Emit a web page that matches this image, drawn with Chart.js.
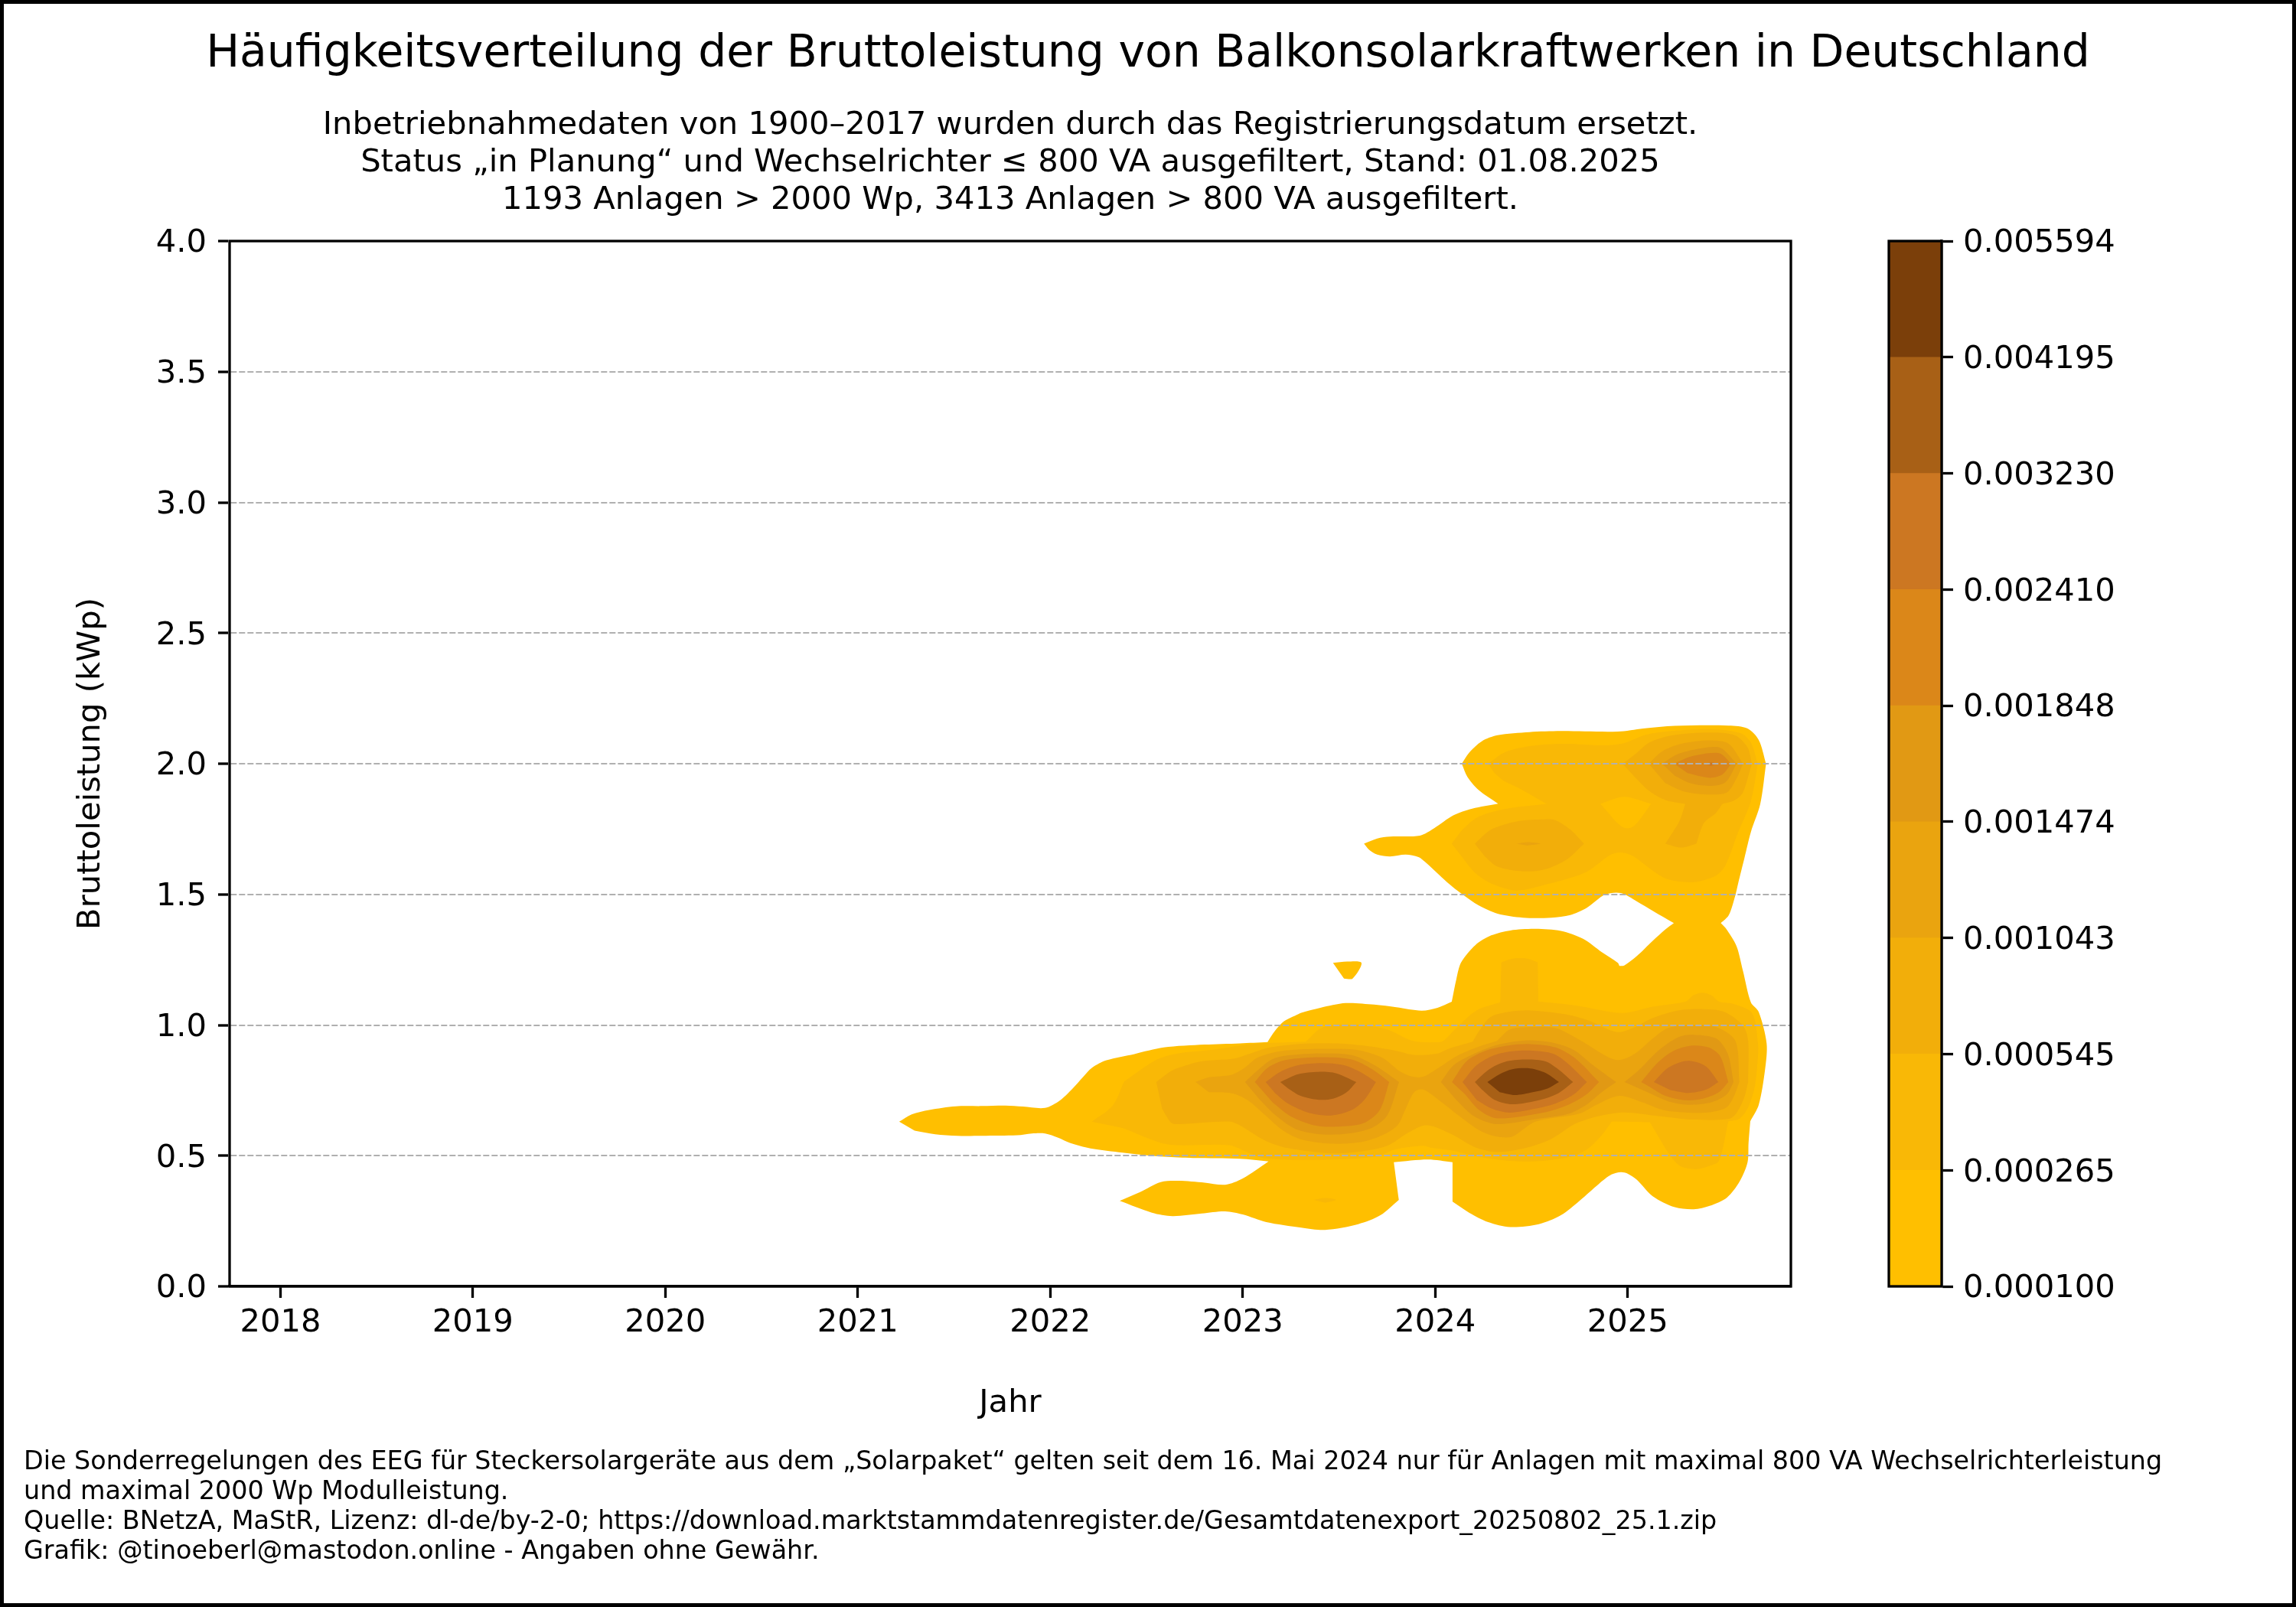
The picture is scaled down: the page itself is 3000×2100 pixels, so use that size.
<!DOCTYPE html>
<html lang="de">
<head>
<meta charset="utf-8">
<title>Balkonsolarkraftwerke</title>
<script src="https://cdn.jsdelivr.net/npm/chart.js@4"></script>
<style>
  html, body { margin: 0; padding: 0; background: #fff; }
  body { width: 3000px; height: 2100px; position: relative; overflow: hidden; font-family: "DejaVu Sans", sans-serif; color: #000; }
  #frame { position: absolute; left: 0; top: 0; width: 3000px; height: 2100px; box-sizing: border-box; border: 5px solid #000; pointer-events: none; }
  canvas { position: absolute; }
  #mainChart { left: 0; top: 0; }
  #barChart { left: 2440px; top: 200px; }
  .txt { position: absolute; white-space: nowrap; }
  #title { left: 1500px; top: 37px; font-size: 58.38px; line-height: 60px; transform: translateX(-50%); }
  #subtitle { left: 1320px; top: 137px; font-size: 41.67px; line-height: 48.9px; text-align: center; transform: translateX(-50%); }
  #footer { left: 31px; top: 1889px; font-size: 33.37px; line-height: 39px; }
</style>
</head>
<body>
<canvas id="mainChart" width="2440" height="1900"></canvas>
<canvas id="barChart" width="400" height="1600"></canvas>
<div id="title" class="txt">Häufigkeitsverteilung der Bruttoleistung von Balkonsolarkraftwerken in Deutschland</div>
<div id="subtitle" class="txt">Inbetriebnahmedaten von 1900–2017 wurden durch das Registrierungsdatum ersetzt.<br>Status „in Planung“ und Wechselrichter ≤ 800 VA ausgefiltert, Stand: 01.08.2025<br>1193 Anlagen &gt; 2000 Wp, 3413 Anlagen &gt; 800 VA ausgefiltert.</div>
<div id="footer" class="txt">Die Sonderregelungen des EEG für Steckersolargeräte aus dem „Solarpaket“ gelten seit dem 16. Mai 2024 nur für Anlagen mit maximal 800 VA Wechselrichterleistung<br>und maximal 2000 Wp Modulleistung.<br>Quelle: BNetzA, MaStR, Lizenz: dl-de/by-2-0; https://download.marktstammdatenregister.de/Gesamtdatenexport_20250802_25.1.zip<br>Grafik: @tinoeberl@mastodon.online - Angaben ohne Gewähr.</div>
<div id="frame"></div>
<script>
// Achsen
const yearTicks = [2018, 2019, 2020, 2021, 2022, 2023, 2024, 2025];
const yearMin = 2017.736;
const yearMax = 2025.848;
const powerMin = 0;
const powerMax = 4;
const powerStep = 0.5;

// Konturstufen und Farben
const contourLevels = [0.0001, 0.000265, 0.000545, 0.001043, 0.001474, 0.001848, 0.00241, 0.00323, 0.004195, 0.005594];
const levelColors = ['#FFBF00', '#F9B806', '#F2AE0A', '#EAA40F', '#E19914', '#DB8719', '#CC7722', '#A86016', '#7B3F0A'];

// Konturflächen als [Jahr, kWp]
const outlineL0 = [[2021.215,.630],[2021.28,.658],[2021.371,.675],[2021.508,.689],[2021.645,.690],[2021.767,.692],[2021.858,.688],[2021.973,.683],[2022.049,.711],[2022.117,.758],[2022.170,.801],[2022.216,.836],[2022.292,.865],[2022.437,.889],[2022.589,.914],[2022.802,.925],[2022.985,.930],[2023.129,.935],[2023.167,.977],[2023.213,1.014],[2023.289,1.042],[2023.304,1.047],[2023.403,1.066],[2023.535,1.084],[2023.683,1.078],[2023.798,1.068],[2023.929,1.055],[2024.012,1.066],[2024.086,1.089],[2024.110,1.176],[2024.135,1.240],[2024.209,1.306],[2024.291,1.343],[2024.390,1.362],[2024.521,1.368],[2024.653,1.360],[2024.768,1.330],[2024.867,1.278],[2024.949,1.238],[2024.957,1.226],[2024.982,1.228],[2025.048,1.264],[2025.130,1.322],[2025.196,1.366],[2025.240,1.390],
  [2025.130,1.437],[2025.048,1.473],[2024.965,1.505],[2024.883,1.499],[2024.785,1.447],[2024.702,1.421],[2024.604,1.411],[2024.456,1.411],[2024.324,1.426],[2024.225,1.458],[2024.143,1.499],[2024.061,1.547],[2023.946,1.625],[2023.913,1.643],[2023.847,1.652],[2023.765,1.645],[2023.699,1.652],[2023.658,1.670],[2023.630,1.694],[2023.699,1.714],[2023.765,1.721],[2023.921,1.725],[2023.995,1.753],[2024.094,1.802],[2024.192,1.828],[2024.327,1.847],[2024.225,1.900],[2024.168,1.949],[2024.138,2.0],[2024.176,2.042],[2024.242,2.086],[2024.324,2.109],[2024.489,2.121],[2024.653,2.125],[2024.949,2.123],[2025.081,2.135],[2025.245,2.145],[2025.525,2.146],[2025.623,2.135],[2025.681,2.091],[2025.719,2.0],[2025.689,1.846],[2025.640,1.738],[2025.607,1.640],[2025.574,1.542],[2025.558,1.493],[2025.525,1.420],[2025.484,1.390],
  [2025.516,1.364],[2025.566,1.301],[2025.599,1.207],[2025.640,1.087],[2025.681,1.050],[2025.722,.930],[2025.714,.831],[2025.681,.695],[2025.637,.632],[2025.628,.549],[2025.623,.475],[2025.582,.402],[2025.516,.340],[2025.426,.308],[2025.344,.295],[2025.245,.303],[2025.130,.345],[2025.048,.408],[2024.998,.432],[2024.965,.437],[2024.916,.428],[2024.850,.392],[2024.752,.329],[2024.653,.272],[2024.538,.238],[2024.390,.227],[2024.275,.246],[2024.176,.282],[2024.090,.324],[2024.090,.475],[2023.962,.485],[2023.785,.475],[2023.811,.331],[2023.715,.272],[2023.600,.238],[2023.428,.216],[2023.304,.225],[2023.122,.246],[2023.0,.275],[2022.909,.287],[2022.787,.279],[2022.635,.269],[2022.528,.282],[2022.361,.327],[2022.467,.361],[2022.574,.399],[2022.665,.404],[2022.802,.397],[2022.909,.389],[2023.0,.413],[2023.134,.478],[2022.985,.488],[2022.741,.491],[2022.589,.496],[2022.376,.512],[2022.209,.528],[2022.102,.549],[2022.041,.569],[2021.973,.585],[2021.904,.585],[2021.828,.578],[2021.645,.576],[2021.516,.576],[2021.402,.582],[2021.295,.596]];
const islandL0 = [[2023.469,1.238],[2023.543,1.243],[2023.617,1.238],[2023.571,1.178],[2023.526,1.178]];

const mainL1 = [[2022.216,.630],[2022.323,.690],[2022.384,.784],[2022.551,.867],[2022.665,.892],[2022.837,.905],[2023.049,.927],[2023.328,.936],[2023.407,.988],[2023.487,1.0],[2023.619,1.0],[2023.751,.983],[2023.884,.939],[2024.017,.934],[2024.043,.939],[2024.109,.988],[2024.215,1.056],[2024.338,1.087],[2024.344,1.24],[2024.39,1.252],[2024.439,1.256],[2024.49,1.252],[2024.533,1.24],[2024.536,1.090],[2024.732,1.075],[2024.971,1.046],[2025.130,1.070],[2025.302,1.090],[2025.341,1.114],[2025.388,1.124],[2025.434,1.114],[2025.474,1.090],[2025.553,1.080],[2025.646,1.046],[2025.677,.929],[2025.675,.861],[2025.660,.763],[2025.626,.685],[2025.580,.641],[2025.523,.631],[2025.474,.480],[2025.421,.460],[2025.355,.449],[2025.275,.460],[2025.222,.499],[2025.116,.628],[2024.917,.631],[2024.865,.578],[2024.798,.529],[2024.719,.499],[2024.560,.480],[2024.388,.480],[2024.202,.499],[2024.096,.519],[2023.977,.531],[2023.937,.538],[2023.791,.524],[2023.699,.497],[2023.407,.484],[2023.116,.490],[2023.036,.509],[2022.930,.540],[2022.665,.540],[2022.574,.549],[2022.376,.606]];
const upperL1 = [[2024.275,2.0],[2024.357,2.042],[2024.489,2.067],[2024.669,2.076],[2024.883,2.070],[2024.982,2.079],[2025.097,2.111],[2025.229,2.125],[2025.442,2.132],[2025.590,2.116],[2025.640,2.081],[2025.676,2.0],[2025.640,1.856],[2025.574,1.738],[2025.508,1.611],[2025.459,1.572],[2025.344,1.547],[2025.212,1.557],[2025.130,1.591],[2025.031,1.645],[2024.965,1.660],[2024.908,1.650],[2024.785,1.586],[2024.587,1.540],[2024.423,1.515],[2024.291,1.542],[2024.209,1.581],[2024.143,1.640],[2024.086,1.694],[2024.143,1.748],[2024.225,1.797],[2024.357,1.826],[2024.579,1.846],[2024.439,1.905],[2024.357,1.934],[2024.308,1.964]];
const spotL1 = [[2023.368,.331],[2023.428,.338],[2023.485,.331],[2023.428,.320]];
const lensL0 = [[2024.858,1.846],[2024.982,1.873],[2025.121,1.846],[2025.064,1.787],[2025.023,1.757],[2024.982,1.755],[2024.941,1.777],[2024.900,1.811]];

const mainL2 = [[2022.551,.782],[2022.619,.820],[2022.665,.836],[2022.784,.861],[2022.957,.872],[2023.036,.890],[2023.142,.914],[2023.328,.929],[2023.513,.929],[2023.672,.917],[2023.805,.900],[2023.897,.885],[2024.017,.892],[2024.070,.909],[2024.195,.936],[2024.229,.978],[2024.288,1.031],[2024.388,1.051],[2024.494,1.056],[2024.679,1.041],[2024.798,1.017],[2024.944,.973],[2025.037,.992],[2025.130,1.027],[2025.262,1.056],[2025.394,1.061],[2025.500,1.051],[2025.600,.997],[2025.626,.939],[2025.626,.782],[2025.606,.724],[2025.567,.665],[2025.527,.641],[2025.342,.638],[2025.169,.651],[2024.957,.665],[2024.745,.628],[2024.600,.563],[2024.467,.529],[2024.321,.514],[2024.202,.534],[2024.096,.578],[2023.990,.612],[2023.937,.615],[2023.857,.587],[2023.751,.538],[2023.619,.517],[2023.460,.509],[2023.235,.529],[2023.116,.558],[2022.983,.617],[2022.930,.631],[2022.665,.621],[2022.627,.627],[2022.581,.679]];
const blobL2 = [[2024.206,1.694],[2024.291,1.748],[2024.423,1.779],[2024.554,1.787],[2024.620,1.785],[2024.702,1.748],[2024.773,1.694],[2024.686,1.635],[2024.571,1.596],[2024.456,1.588],[2024.324,1.606],[2024.258,1.645]];
const upperL2 = [[2024.974,2.0],[2025.048,2.042],[2025.113,2.081],[2025.229,2.108],[2025.426,2.119],[2025.558,2.108],[2025.623,2.062],[2025.645,2.0],[2025.599,1.890],[2025.558,1.861],[2025.492,1.846],[2025.459,1.812],[2025.396,1.773],[2025.357,1.694],[2025.278,1.679],[2025.196,1.694],[2025.270,1.782],[2025.299,1.846],[2025.196,1.861],[2025.113,1.895],[2025.031,1.954]];

const mainL3 = [[2022.755,.782],[2022.824,.800],[2022.943,.810],[2023.009,.836],[2023.076,.875],[2023.195,.900],[2023.407,.909],[2023.593,.905],[2023.725,.875],[2023.818,.822],[2023.884,.802],[2023.937,.802],[2024.017,.836],[2024.109,.880],[2024.215,.914],[2024.321,.939],[2024.388,.983],[2024.494,.992],[2024.626,.988],[2024.759,.939],[2024.891,.880],[2024.957,.866],[2025.037,.890],[2025.130,.948],[2025.209,.988],[2025.328,.999],[2025.461,.992],[2025.560,.939],[2025.580,.782],[2025.550,.724],[2025.514,.685],[2025.434,.667],[2025.315,.665],[2025.183,.675],[2025.077,.704],[2024.957,.729],[2024.838,.695],[2024.745,.660],[2024.520,.630],[2024.401,.573],[2024.321,.573],[2024.242,.592],[2024.136,.646],[2024.017,.714],[2023.937,.753],[2023.891,.743],[2023.844,.675],[2023.805,.617],[2023.725,.578],[2023.619,.553],[2023.460,.546],[2023.301,.563],[2023.208,.597],[2023.116,.656],[2023.023,.714],[2022.943,.739],[2022.824,.743]];
const spotL3 = [[2024.423,1.694],[2024.480,1.700],[2024.546,1.694],[2024.480,1.687]];
const upperL3 = [[2025.110,2.0],[2025.179,2.047],[2025.278,2.076],[2025.426,2.089],[2025.525,2.076],[2025.599,2.0],[2025.566,1.944],[2025.516,1.890],[2025.426,1.882],[2025.294,1.893],[2025.196,1.925]];

const eye1L4 = [[2023.012,.782],[2023.076,.826],[2023.155,.870],[2023.248,.885],[2023.407,.892],[2023.566,.885],[2023.685,.846],[2023.812,.782],[2023.752,.656],[2023.672,.607],[2023.540,.584],[2023.407,.582],[2023.275,.602],[2023.169,.656],[2023.089,.714]];
const eye2L4 = [[2024.030,.782],[2024.096,.846],[2024.202,.890],[2024.321,.924],[2024.467,.941],[2024.600,.934],[2024.719,.905],[2024.812,.851],[2024.940,.782],[2024.865,.743],[2024.785,.695],[2024.692,.660],[2024.533,.641],[2024.321,.621],[2024.202,.651],[2024.109,.714]];
const eye3L4 = [[2024.984,.782],[2025.063,.831],[2025.156,.900],[2025.262,.953],[2025.342,.963],[2025.461,.948],[2025.520,.890],[2025.550,.782],[2025.514,.734],[2025.434,.704],[2025.315,.695],[2025.209,.709],[2025.103,.743]];
const upperL4 = [[2025.179,2.0],[2025.262,2.037],[2025.393,2.060],[2025.484,2.060],[2025.566,2.0],[2025.508,1.929],[2025.426,1.915],[2025.327,1.925],[2025.245,1.954]];

const eye1L5 = [[2023.063,.782],[2023.129,.836],[2023.222,.866],[2023.407,.877],[2023.566,.868],[2023.672,.831],[2023.761,.782],[2023.712,.675],[2023.632,.626],[2023.513,.612],[2023.381,.615],[2023.248,.651],[2023.155,.704]];
const eye2L5 = [[2024.087,.782],[2024.162,.861],[2024.255,.900],[2024.374,.921],[2024.494,.927],[2024.626,.914],[2024.732,.870],[2024.851,.782],[2024.785,.734],[2024.692,.695],[2024.560,.665],[2024.321,.643],[2024.228,.675],[2024.156,.734]];
const eye3L5 = [[2025.070,.782],[2025.156,.856],[2025.235,.900],[2025.328,.921],[2025.421,.914],[2025.481,.880],[2025.523,.782],[2025.474,.743],[2025.394,.719],[2025.302,.712],[2025.196,.729],[2025.116,.763]];
const upperL5 = [[2025.242,2.0],[2025.327,2.027],[2025.475,2.040],[2025.538,2.0],[2025.492,1.959],[2025.426,1.946],[2025.311,1.964]];

const eye1L6 = [[2023.119,.782],[2023.195,.821],[2023.288,.846],[2023.407,.854],[2023.526,.846],[2023.619,.817],[2023.692,.782],[2023.632,.714],[2023.566,.675],[2023.460,.654],[2023.341,.665],[2023.235,.700],[2023.169,.739]];
const eye2L6 = [[2024.142,.782],[2024.215,.846],[2024.308,.885],[2024.401,.900],[2024.507,.902],[2024.613,.890],[2024.692,.851],[2024.788,.782],[2024.719,.734],[2024.626,.700],[2024.520,.680],[2024.388,.665],[2024.295,.680],[2024.215,.714]];
const eye3L6 = [[2025.136,.782],[2025.209,.836],[2025.288,.861],[2025.342,.861],[2025.408,.841],[2025.471,.782],[2025.408,.753],[2025.315,.740],[2025.222,.751]];
const upperL6 = [[2025.401,2.0],[2025.434,2.005],[2025.458,2.0],[2025.434,1.992]];

const eye1L7 = [[2023.195,.782],[2023.288,.812],[2023.394,.821],[2023.487,.815],[2023.590,.782],[2023.540,.743],[2023.473,.719],[2023.394,.714],[2023.301,.729],[2023.235,.758]];
const eye2L7 = [[2024.206,.782],[2024.281,.831],[2024.361,.859],[2024.467,.868],[2024.573,.861],[2024.639,.831],[2024.716,.782],[2024.639,.739],[2024.546,.714],[2024.401,.697],[2024.308,.714],[2024.242,.753]];

const eye2L8 = [[2024.271,.782],[2024.335,.812],[2024.401,.831],[2024.494,.834],[2024.573,.817],[2024.643,.782],[2024.586,.758],[2024.507,.743],[2024.414,.732],[2024.335,.743]];

// Ecken, die nicht abgerundet werden (Jahr, kWp)
const sharpCorners = [[2025.240,1.390],[2025.484,1.390],[2024.327,1.847],[2024.090,.324],[2024.090,.475],[2023.785,.475],[2023.811,.331],[2023.134,.478],[2024.086,1.089],[2023.129,.935],[2025.719,2.0],[2024.138,2.0],[2022.361,.327],[2023.630,1.694],[2025.637,.632],[2024.957,1.226],
    [2022.384,.784],[2023.328,.936],[2024.338,1.087],[2024.344,1.24],[2024.533,1.24],[2024.536,1.090],[2025.523,.631],[2025.116,.628],[2024.917,.631],[2024.579,1.846],[2024.086,1.694],[2025.676,2.0],[2025.121,1.846],
    [2025.626,.782],[2024.195,.936],[2025.580,.782],[2024.321,.939],[2024.773,1.694],[2025.645,2.0],[2025.357,1.694],[2025.196,1.694],[2025.299,1.846],[2025.492,1.846],[2025.599,2.0],[2025.566,2.0],[2025.538,2.0],
    [2023.812,.782],[2024.940,.782],[2025.550,.782],[2023.761,.782],[2024.851,.782],[2025.523,.782],[2023.692,.782],[2024.788,.782],[2025.471,.782],[2023.590,.782],[2024.716,.782],[2024.643,.782]];

// Reihenfolge von unten nach oben, zweite Spalte ist die Stufe
const contourLayers = [
    [outlineL0, 0], [islandL0, 0],
    [mainL1, 1], [upperL1, 1], [spotL1, 1], [lensL0, 0],
    [mainL2, 2], [blobL2, 2], [upperL2, 2],
    [mainL3, 3], [spotL3, 3], [upperL3, 3],
    [eye1L4, 4], [eye2L4, 4], [eye3L4, 4], [upperL4, 4],
    [eye1L5, 5], [eye2L5, 5], [eye3L5, 5], [upperL5, 5],
    [eye1L6, 6], [eye2L6, 6], [eye3L6, 6], [upperL6, 6],
    [eye1L7, 7], [eye2L7, 7],
    [eye2L8, 8]
];

const axisFont = { family: '"DejaVu Sans"', size: 41.67 };
const lineWidth = 3.3;

// Doppelter Punkt ergibt bei tension eine spitze Ecke
function shapeToPoints(shape) {
    const points = [];
    shape.forEach(([x, y]) => {
        points.push({ x, y });
        if (sharpCorners.some(c => c[0] === x && c[1] === y)) {
            points.push({ x, y });
        }
    });
    return points;
}

// Rahmen um die Zeichenfläche (oben und rechts fehlen sonst)
const boxPlugin = {
    id: 'box',
    afterDraw(chart) {
        const a = chart.chartArea;
        const ctx = chart.ctx;
        ctx.save();
        ctx.strokeStyle = '#000';
        ctx.lineWidth = lineWidth;
        ctx.strokeRect(a.left, a.top, a.right - a.left, a.bottom - a.top);
        ctx.restore();
    }
};

new Chart(document.getElementById('mainChart'), {
    type: 'scatter',
    data: {
        datasets: contourLayers.map(([shape, level], i) => ({
            data: shapeToPoints(shape),
            showLine: true,
            fill: 'shape',
            backgroundColor: levelColors[level],
            borderWidth: 0,
            pointRadius: 0,
            tension: 0.3,
            order: contourLayers.length - i
        }))
    },
    options: {
        responsive: false,
        animation: false,
        devicePixelRatio: 1,
        layout: { padding: { left: 80, top: 315, right: 100, bottom: 0 } },
        plugins: { legend: { display: false }, tooltip: { enabled: false } },
        scales: {
            x: {
                type: 'linear',
                min: yearMin,
                max: yearMax,
                afterBuildTicks: s => { s.ticks = yearTicks.map(value => ({ value })); },
                afterFit: s => { s.height = 219; },
                ticks: { font: axisFont, color: '#000', padding: 8, maxRotation: 0, autoSkip: false, callback: v => String(v) },
                grid: { drawOnChartArea: false, tickLength: 15, tickColor: '#000', tickWidth: lineWidth },
                border: { color: '#000', width: lineWidth },
                title: { display: true, text: 'Jahr', font: axisFont, color: '#000', padding: 41 }
            },
            y: {
                min: powerMin,
                max: powerMax,
                afterFit: s => { s.width = 220; },
                ticks: { stepSize: powerStep, font: axisFont, color: '#000', padding: 15, labelOffset: 3.5, callback: v => v.toFixed(1) },
                grid: { z: 1, color: '#b0b0b0', lineWidth: 2, tickLength: 15, tickColor: '#000', tickWidth: lineWidth },
                border: { color: '#000', width: lineWidth, dash: [8, 3] },
                title: { display: true, text: 'Bruttoleistung (kWp)', font: axisFont, color: '#000', padding: 14 }
            }
        }
    },
    plugins: [boxPlugin]
});

// Farbleiste: gleich hohe Felder, Beschriftung mit den Konturstufen
new Chart(document.getElementById('barChart'), {
    type: 'bar',
    data: {
        labels: [''],
        datasets: levelColors.map(color => ({
            data: [1],
            backgroundColor: color,
            borderWidth: 0,
            barPercentage: 1,
            categoryPercentage: 1
        }))
    },
    options: {
        responsive: false,
        animation: false,
        devicePixelRatio: 1,
        layout: { padding: { left: 28, top: 115, right: 0, bottom: 119 } },
        plugins: { legend: { display: false }, tooltip: { enabled: false } },
        scales: {
            x: { stacked: true, display: false },
            y: {
                stacked: true,
                position: 'right',
                min: 0,
                max: levelColors.length,
                afterFit: s => { s.width = 303; },
                ticks: { stepSize: 1, font: axisFont, color: '#000', padding: 13, labelOffset: 3.5, callback: v => contourLevels[v].toFixed(6) },
                grid: { drawOnChartArea: false, tickLength: 15, tickColor: '#000', tickWidth: lineWidth },
                border: { color: '#000', width: lineWidth }
            }
        }
    },
    plugins: [boxPlugin]
});
</script>
</body>
</html>
